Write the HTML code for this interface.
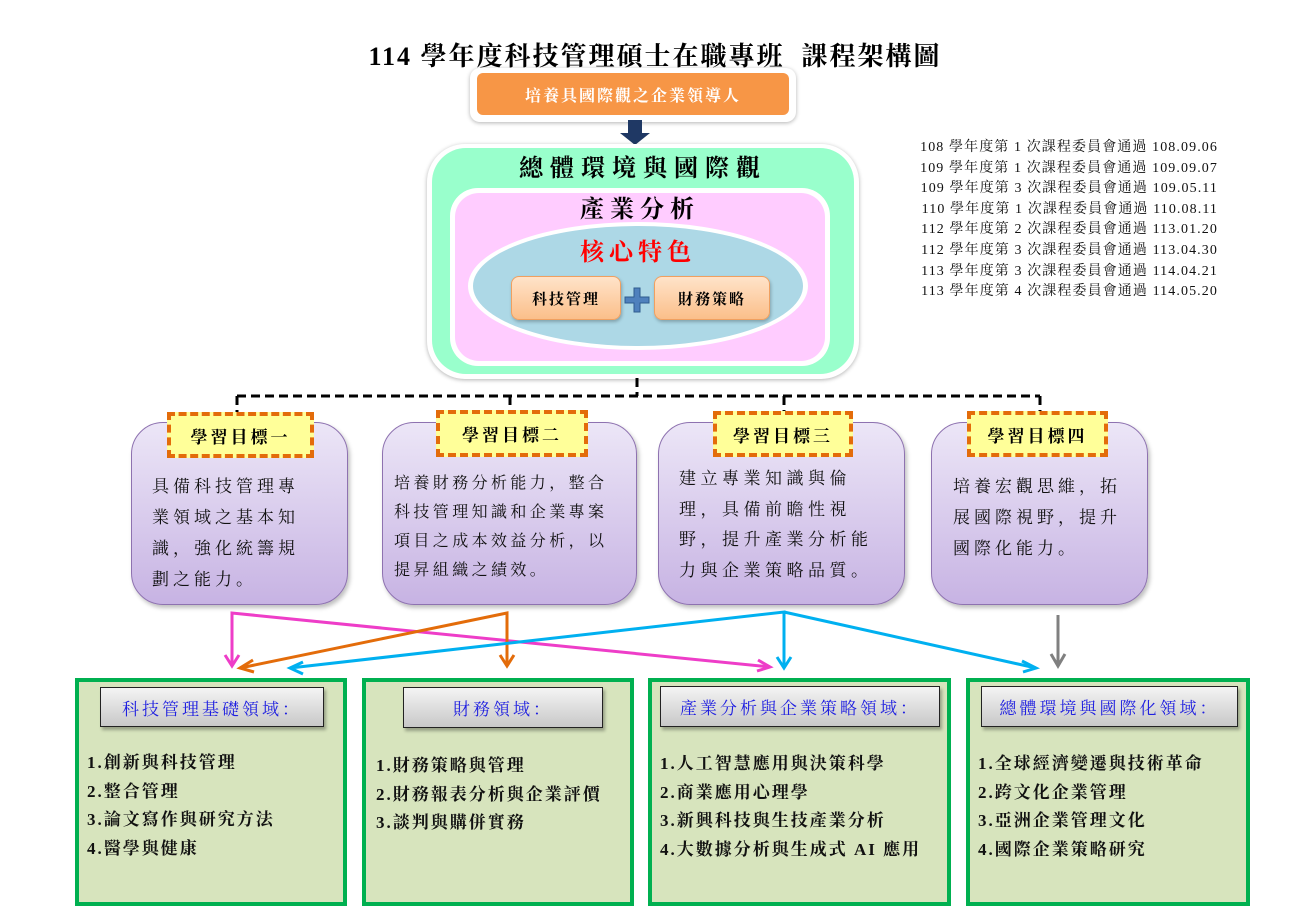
<!DOCTYPE html>
<html><head><meta charset="utf-8"><style>
body{margin:0;width:1312px;height:919px;background:#fff;position:relative;overflow:hidden;font-family:"Liberation Serif","Noto Serif CJK SC","Noto Sans CJK TC",serif;}
.a{position:absolute;box-sizing:border-box;}
.c{display:flex;align-items:center;justify-content:center;text-align:center;}
.pur{border:1.5px solid #8e72b0;border-radius:32px;background:linear-gradient(#ece6f7,#c7b3e3);box-shadow:2px 3px 4px rgba(0,0,0,.25);}
.yl{background:#ffff99;border:4px dashed #e36c0a;font-size:17px;font-weight:bold;letter-spacing:3px;}
.pt{font-size:17px;line-height:31px;letter-spacing:4px;color:#111;white-space:nowrap;}
.grn{background:#d7e4bd;border:4px solid #00b050;}
.hd{border:1.5px solid #222;background:linear-gradient(#f4f4f4,#c8c8c8);color:#1f1fe0;font-size:17px;letter-spacing:3px;box-shadow:2px 3px 3px rgba(0,0,0,.3);}
.li{font-size:17px;font-weight:bold;line-height:28.5px;letter-spacing:2px;color:#111;white-space:nowrap;}
</style></head><body>
<div class="a c" style="left:300px;top:36px;width:710px;height:36px;font-size:26px;font-weight:bold;letter-spacing:2px;">114 學年度科技管理碩士在職專班&nbsp; 課程架構圖</div>
<div class="a" style="left:470px;top:68px;width:326px;height:54px;background:#fff;border-radius:10px;box-shadow:0 1px 4px rgba(0,0,0,.3);"></div>
<div class="a c" style="left:477px;top:73px;width:312px;height:42px;background:#f79646;border-radius:6px;color:#fff;font-size:16px;font-weight:bold;letter-spacing:2px;">培養具國際觀之企業領導人</div>
<svg class="a" style="left:0;top:0" width="1312" height="919">
<polygon points="628,120 642,120 642,133 650,133 635,145 620,133 628,133" fill="#1f3864"/>
</svg>
<div class="a" style="left:427px;top:144px;width:432px;height:235px;background:#fff;border-radius:38px;box-shadow:0 1px 4px rgba(0,0,0,.3);"></div>
<div class="a" style="left:432px;top:148px;width:422px;height:226px;background:#99ffcc;border-radius:34px;"></div>
<div class="a c" style="left:432px;top:148px;width:422px;height:34px;font-size:24px;font-weight:bold;letter-spacing:7px;">總體環境與國際觀</div>
<div class="a" style="left:450px;top:188px;width:380px;height:178px;background:#fff;border-radius:28px;"></div>
<div class="a" style="left:455px;top:193px;width:370px;height:168px;background:#ffccff;border-radius:24px;"></div>
<div class="a c" style="left:455px;top:190px;width:370px;height:32px;font-size:24px;font-weight:bold;letter-spacing:6px;">產業分析</div>
<div class="a" style="left:468px;top:222px;width:340px;height:128px;background:#fff;border-radius:50%;"></div>
<div class="a" style="left:473px;top:226px;width:330px;height:120px;background:#add8e6;border-radius:50%;"></div>
<div class="a c" style="left:473px;top:232px;width:330px;height:34px;font-size:24px;font-weight:bold;color:#f00;letter-spacing:5px;">核心特色</div>
<div class="a c" style="left:511px;top:276px;width:110px;height:44px;background:linear-gradient(#ffe3c9,#fbbf8a);border:1.5px solid #f0a060;border-radius:8px;font-size:15px;font-weight:bold;letter-spacing:2px;box-shadow:1px 2px 3px rgba(0,0,0,.25);">科技管理</div>
<div class="a c" style="left:654px;top:276px;width:116px;height:44px;background:linear-gradient(#ffe3c9,#fbbf8a);border:1.5px solid #f0a060;border-radius:8px;font-size:15px;font-weight:bold;letter-spacing:2px;box-shadow:1px 2px 3px rgba(0,0,0,.25);">財務策略</div>
<svg class="a" style="left:0;top:0" width="1312" height="919">
<path d="M634,288h6v9h9v6h-9v9h-6v-9h-9v-6h9z" fill="#4f81bd" stroke="#2e5c8f" stroke-width="1"/>
<path d="M637,378V396M237,396H1040M237,396V414M510,396V414M784,396V414M1040,396V414" stroke="#000" stroke-width="3" stroke-dasharray="9,5" fill="none"/>
</svg>
<div class="a pur" style="left:131px;top:422px;width:217px;height:183px;"></div>
<div class="a pur" style="left:382px;top:422px;width:255px;height:183px;"></div>
<div class="a pur" style="left:658px;top:422px;width:247px;height:183px;"></div>
<div class="a pur" style="left:931px;top:422px;width:217px;height:183px;"></div>
<div class="a yl c" style="left:167px;top:412px;width:147px;height:46px;">學習目標一</div>
<div class="a yl c" style="left:436px;top:410px;width:152px;height:47px;">學習目標二</div>
<div class="a yl c" style="left:713px;top:411px;width:140px;height:46px;">學習目標三</div>
<div class="a yl c" style="left:967px;top:411px;width:141px;height:46px;">學習目標四</div>
<div class="a pt" style="left:152px;top:471px;">具備科技管理專<br>業領域之基本知<br>識，強化統籌規<br>劃之能力。</div>
<div class="a pt" style="left:394px;top:469px;font-size:16px;letter-spacing:3.4px;line-height:29px;">培養財務分析能力，整合<br>科技管理知識和企業專案<br>項目之成本效益分析，以<br>提昇組織之績效。</div>
<div class="a pt" style="left:679px;top:464px;line-height:30.5px;letter-spacing:4.5px;">建立專業知識與倫<br>理，具備前瞻性視<br>野，提升產業分析能<br>力與企業策略品質。</div>
<div class="a pt" style="left:953px;top:471px;">培養宏觀思維，拓<br>展國際視野，提升<br>國際化能力。</div>
<svg class="a" style="left:0;top:0" width="1312" height="919" fill="none" stroke-width="3">
<g stroke="#ee3dc8"><path d="M232,665V613L770,667"/><path d="M225,655L232,666L239,655M758,660L770,667L757,671"/></g>
<g stroke="#e36c0a"><path d="M240,668L507,613V665"/><path d="M253,660L240,668L254,672M500,655L507,666L514,655"/></g>
<g stroke="#00b0f0"><path d="M290,668L784,612V668M784,612L1036,668"/><path d="M303,662L290,668L303,674M777,657L784,668L791,657M1022,661L1036,668L1023,672"/></g>
<g stroke="#808080"><path d="M1058,615V665"/><path d="M1051,654L1058,666L1065,654"/></g>
</svg>
<div class="a grn" style="left:75px;top:678px;width:272px;height:228px;"></div>
<div class="a grn" style="left:362px;top:678px;width:272px;height:228px;"></div>
<div class="a grn" style="left:648px;top:678px;width:303px;height:228px;"></div>
<div class="a grn" style="left:966px;top:678px;width:284px;height:228px;"></div>
<div class="a hd c" style="left:100px;top:687px;width:224px;height:40px;">科技管理基礎領域：</div>
<div class="a hd c" style="left:403px;top:687px;width:200px;height:41px;">財務領域：</div>
<div class="a hd c" style="left:660px;top:686px;width:280px;height:41px;">產業分析與企業策略領域：</div>
<div class="a hd c" style="left:981px;top:686px;width:257px;height:41px;">總體環境與國際化領域：</div>
<div class="a li" style="left:87px;top:749px;">1.創新與科技管理<br>2.整合管理<br>3.論文寫作與研究方法<br>4.醫學與健康</div>
<div class="a li" style="left:376px;top:752px;">1.財務策略與管理<br>2.財務報表分析與企業評價<br>3.談判與購併實務</div>
<div class="a li" style="left:660px;top:750px;">1.人工智慧應用與決策科學<br>2.商業應用心理學<br>3.新興科技與生技產業分析<br>4.大數據分析與生成式 AI 應用</div>
<div class="a li" style="left:978px;top:750px;">1.全球經濟變遷與技術革命<br>2.跨文化企業管理<br>3.亞洲企業管理文化<br>4.國際企業策略研究</div>
<div class="a" style="left:880px;top:138px;width:338px;text-align:right;font-size:14px;line-height:20.6px;letter-spacing:1.1px;color:#111;white-space:nowrap;">108 學年度第 1 次課程委員會通過 108.09.06<br>109 學年度第 1 次課程委員會通過 109.09.07<br>109 學年度第 3 次課程委員會通過 109.05.11<br>110 學年度第 1 次課程委員會通過 110.08.11<br>112 學年度第 2 次課程委員會通過 113.01.20<br>112 學年度第 3 次課程委員會通過 113.04.30<br>113 學年度第 3 次課程委員會通過 114.04.21<br>113 學年度第 4 次課程委員會通過 114.05.20</div>
</body></html>
